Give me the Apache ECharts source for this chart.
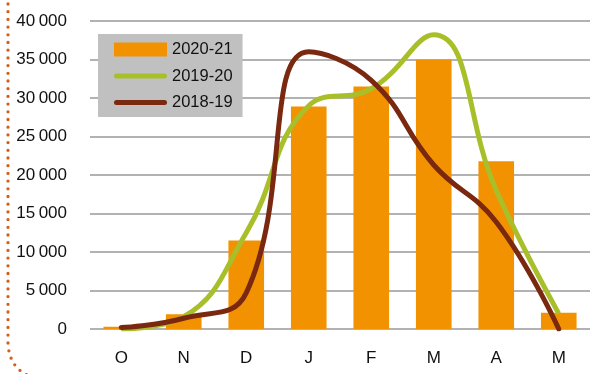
<!DOCTYPE html>
<html><head><meta charset="utf-8">
<script src="https://cdn.jsdelivr.net/npm/echarts@6/dist/echarts.min.js"></script>
<style>html,body{margin:0;padding:0;background:#fff}#c{width:595px;height:374px}</style>
</head><body><div id="c"></div>
<script>
const categories = ['O','N','D','J','F','M','A','M'];
const s2020 = [300, 1900, 11500, 28900, 31500, 35000, 21800, 2100];
const s2019 = [0, 1600, 12500, 29000, 31200, 38200, 18000, 2000];
const s2018 = [200, 1400, 4700, 36000, 32300, 21300, 13900, 0];
const yTicks = [0, 5000, 10000, 15000, 20000, 25000, 30000, 35000, 40000];

const FONT = "'Liberation Sans','Arial',sans-serif";
const chart = echarts.init(document.getElementById('c'), null, {renderer:'canvas'});
function fmt(v){ if(v===0) return '0'; const t=Math.floor(v/1000), r=v%1000; return t+'\u2009'+String(r).padStart(3,'0'); }
const dotStyle = {fill:null, stroke:'#d2601a', lineWidth:3.3, lineDash:[0,7.7], lineCap:'round'};
const lineIcon = 'path://M2.5,0 H50.5 A2.5,2.5 0 0 1 50.5,5 H2.5 A2.5,2.5 0 0 1 2.5,0 Z';
chart.setOption({
  animation:false,
  textStyle:{fontFamily:FONT},
  grid:{left:90,right:5,top:21,bottom:45},
  legend:{
    left:98, top:34, orient:'vertical', backgroundColor:'#c0c0c0',
    padding:[7,10,6,16], itemWidth:53, itemHeight:14, itemGap:9.5,
    textStyle:{fontFamily:FONT, fontSize:16.5, color:'#111', lineHeight:14},
    data:[
      {name:'2020-21', icon:'rect'},
      {name:'2019-20', icon:lineIcon},
      {name:'2018-19', icon:lineIcon}
    ]
  },
  xAxis:{type:'category', data:categories,
    axisLine:{show:false}, axisTick:{show:false},
    axisLabel:{fontFamily:FONT, fontSize:17, color:'#111', margin:21}},
  yAxis:{type:'value', min:yTicks[0], max:yTicks[yTicks.length-1], interval:5000,
    axisLine:{show:false}, axisTick:{show:false},
    splitLine:{lineStyle:{color:'#999', width:1.5}},
    axisLabel:{fontFamily:FONT, fontSize:17, color:'#111', margin:23, formatter:fmt}},
  series:[
    {name:'2020-21', type:'bar', data:s2020, barWidth:'57%', itemStyle:{color:'#f39200'}, z:1},
    {name:'2019-20', type:'line', data:s2019, smooth:0.45, symbol:'none', lineStyle:{color:'#a8bf2a', width:5}, itemStyle:{color:'#a8bf2a'}, z:3},
    {name:'2018-19', type:'line', data:s2018, smooth:0.45, symbol:'none', lineStyle:{color:'#7a2810', width:5, cap:'round'}, itemStyle:{color:'#7a2810'}, z:4}
  ],
  graphic:[
    {type:'line', shape:{x1:8,y1:4,x2:8,y2:336}, style:dotStyle},
    {type:'bezierCurve', shape:{x1:8,y1:343,cpx1:9,cpy1:366,x2:27,y2:375}, style:dotStyle}
  ]
});
</script></body></html>
